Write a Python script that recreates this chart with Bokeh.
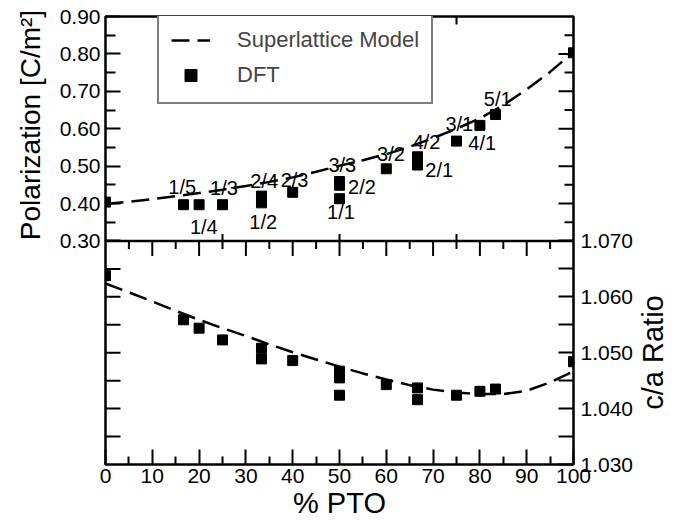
from math import pi
from bokeh.plotting import figure
from bokeh.models import (Range1d, LinearAxis, FixedTicker, PrintfTickFormatter,
                          Span, Legend, LegendItem)
from bokeh.core.properties import value
from bokeh.embed import file_html
from bokeh.resources import INLINE

# ---------------- data ----------------
PTO = [0, 16.67, 20, 25, 33.33, 33.33, 40, 50, 50, 50, 60, 66.67, 66.67, 75, 80, 83.33, 100]
POL_DFT = [0.404, 0.397, 0.397, 0.397, 0.420, 0.402, 0.430, 0.459, 0.449, 0.413,
           0.493, 0.525, 0.503, 0.567, 0.609, 0.638, 0.803]
CA_DFT = [1.0638, 1.0559, 1.0544, 1.0523, 1.0508, 1.0489, 1.0486, 1.0467, 1.0455, 1.0424,
          1.0443, 1.0437, 1.0416, 1.0424, 1.0431, 1.0435, 1.0484]

MODEL_X = [0, 5, 10, 15, 20, 25, 30, 35, 40, 45, 50, 55, 60, 65, 70, 75, 80, 85, 90, 95, 100]
POL_MODEL = [0.399, 0.405, 0.412, 0.420, 0.428, 0.437, 0.447, 0.458, 0.470, 0.485, 0.501,
             0.516, 0.532, 0.552, 0.575, 0.600, 0.628, 0.663, 0.705, 0.752, 0.805]
CA_MODEL = [1.0624, 1.0608, 1.0592, 1.0575, 1.0559, 1.0544, 1.0530, 1.0515, 1.0501, 1.0488,
            1.0475, 1.0463, 1.0452, 1.0442, 1.0434, 1.0429, 1.0426, 1.0426, 1.0432, 1.0447, 1.0467]

LABELS = ["1/5", "1/4", "1/3", "2/4", "1/2", "2/3", "3/3", "2/2", "1/1",
          "3/2", "4/2", "2/1", "3/1", "4/1", "5/1"]
LABEL_X = [16.4, 21.0, 25.3, 33.9, 33.7, 40.4, 50.6, 54.8, 50.3, 61.0, 68.6, 71.3, 75.6, 80.5, 83.8]
LABEL_Y = [0.443, 0.338, 0.4405, 0.461, 0.3515, 0.464, 0.502, 0.444, 0.378,
           0.532, 0.565, 0.490, 0.614, 0.562, 0.680]

X_TICKS = [0, 10, 20, 30, 40, 50, 60, 70, 80, 90, 100]
X_MINOR = [5, 15, 25, 35, 45, 55, 65, 75, 85, 95]
X_QUARTER = [25, 50, 75]
P_TICKS = [0.30, 0.40, 0.50, 0.60, 0.70, 0.80, 0.90]
P_MINOR = [0.35, 0.45, 0.55, 0.65, 0.75, 0.85]
CA_TICKS = [1.030, 1.040, 1.050, 1.060, 1.070]
CA_MINOR = [1.035, 1.045, 1.055, 1.065]

X_MIN, X_MAX = 0, 100
P_MIN, P_MAX = 0.30, 0.90
CA_MIN, CA_MAX = 1.030, 1.070

X_TITLE = "% PTO"
P_TITLE = "Polarization [C/m²]"
CA_TITLE = "c/a Ratio"
P_TITLE_AT = 0.61       # title centred on this polarization value
CA_TITLE_FROM = 1.0398  # title starts (bottom end) at this c/a value

# ---------------- layout ----------------
FONT = "Liberation Sans"
FRAME_H = 449
TOP_H = 225
BOT_H = 224
p_lo = P_MAX - (P_MAX - P_MIN) * FRAME_H / TOP_H
ca_hi = CA_MIN + (CA_MAX - CA_MIN) * FRAME_H / BOT_H

p = figure(width=688, height=521, output_backend="svg", toolbar_location=None,
           x_range=Range1d(X_MIN, X_MAX), y_range=Range1d(p_lo, P_MAX),
           min_border_left=105, min_border_right=111, min_border_top=16, min_border_bottom=56)
p.extra_y_ranges = {"ca": Range1d(CA_MIN, ca_hi)}
p.grid.visible = False
p.outline_line_color = "black"
p.outline_line_width = 2.5
p.outline_line_alpha = 1.0
p.background_fill_color = "white"
p.border_fill_color = "white"


def style_axis(ax, size="21px"):
    ax.axis_line_color = None
    ax.major_tick_out = 0
    ax.minor_tick_out = 0
    ax.major_tick_line_width = 2
    ax.minor_tick_line_width = 2
    ax.major_tick_line_color = "black"
    ax.minor_tick_line_color = "black"
    ax.major_label_text_font = FONT
    ax.major_label_text_font_size = size
    ax.major_label_text_color = "black"
    ax.axis_label_text_font = FONT
    ax.axis_label_text_font_style = "normal"
    ax.axis_label_text_color = "black"


xa = p.xaxis[0]
style_axis(xa)
xa.ticker = FixedTicker(ticks=X_TICKS, minor_ticks=X_MINOR)
xa.formatter = PrintfTickFormatter(format="%d")
xa.major_tick_in = 15
xa.minor_tick_in = 8
xa.major_label_standoff = 4
xa.axis_label = X_TITLE
xa.axis_label_text_font_size = "29px"
xa.axis_label_standoff = 1

ya = p.yaxis[0]
style_axis(ya)
ya.ticker = FixedTicker(ticks=P_TICKS, minor_ticks=P_MINOR)
ya.formatter = PrintfTickFormatter(format="%.2f")
ya.major_tick_in = 15
ya.minor_tick_in = 10
ya.major_label_standoff = 5

# outer left "axis" carrying only the rotated title, centred on the top panel
ya2 = LinearAxis(ticker=FixedTicker(ticks=[P_TITLE_AT], minor_ticks=[]),
                 major_label_overrides={P_TITLE_AT: P_TITLE})
style_axis(ya2, "28px")
ya2.major_tick_line_color = None
ya2.minor_tick_line_color = None
ya2.major_label_orientation = "vertical"
ya2.major_label_standoff = 10
p.add_layout(ya2, "left")

ra = LinearAxis(y_range_name="ca")
style_axis(ra)
ra.ticker = FixedTicker(ticks=CA_TICKS, minor_ticks=CA_MINOR)
ra.formatter = PrintfTickFormatter(format="%.3f")
ra.major_tick_in = 15
ra.minor_tick_in = 15
ra.major_label_standoff = 7
p.add_layout(ra, "right")

# outer right "axis" carrying only the rotated c/a title, on the bottom panel
ra2 = LinearAxis(y_range_name="ca", ticker=FixedTicker(ticks=[CA_TITLE_FROM], minor_ticks=[]),
                 major_label_overrides={CA_TITLE_FROM: CA_TITLE})
style_axis(ra2, "29px")
ra2.major_tick_line_color = None
ra2.minor_tick_line_color = None
ra2.major_label_orientation = pi / 2
ra2.major_label_standoff = 17
p.add_layout(ra2, "right")

# middle boundary between the two panels
p.add_layout(Span(location=P_MIN, dimension="width", line_color="black", line_width=2.5))

# extra tick marks (inside the frame)
TK = dict(length_units="screen", line_color="black", line_width=2)
p.ray(x=X_QUARTER, y=[P_MIN] * 3, length=7, angle=pi / 2, **TK)
p.ray(x=X_QUARTER, y=[P_MAX] * 3, length=8, angle=-pi / 2, **TK)
p.ray(x=X_TICKS[1:-1], y=[P_MIN] * 9, length=15, angle=-pi / 2, **TK)
p.ray(x=X_MINOR, y=[P_MIN] * 10, length=8, angle=-pi / 2, **TK)
p.ray(x=[X_MAX] * 5, y=P_TICKS[1:-1], length=15, angle=pi, **TK)
p.ray(x=[X_MAX] * 6, y=P_MINOR, length=9, angle=pi, **TK)
ca_left = CA_MINOR + CA_TICKS[1:-1]
p.ray(x=[X_MIN] * len(ca_left), y=ca_left, length=15, angle=0, y_range_name="ca", **TK)

# point labels
p.text(x=LABEL_X, y=LABEL_Y, text=LABELS, text_font=value(FONT), text_font_size="20px",
       text_align="center", text_baseline="middle", text_color="black")

# model curves
line_top = p.line(MODEL_X, POL_MODEL, line_color="black", line_width=2.5, line_dash="18 8")
p.line(MODEL_X, CA_MODEL, line_color="black", line_width=2.5, line_dash="18 8", y_range_name="ca")

# DFT points
pts_top = p.scatter(PTO, POL_DFT, marker="square", size=10, color="black")
p.scatter(PTO, CA_DFT, marker="square", size=10, color="black", y_range_name="ca")

legend = Legend(items=[LegendItem(label="Superlattice Model", renderers=[line_top]),
                       LegendItem(label="DFT", renderers=[pts_top])],
                location=(52, 360), label_text_font=FONT, label_text_font_size="22px",
                border_line_color="black", border_line_width=2,
                background_fill_color="white", background_fill_alpha=1.0,
                padding=12, spacing=5, glyph_width=39, glyph_height=30, label_height=30,
                label_standoff=27, margin=0)
p.add_layout(legend)

open("out.html", "w").write(file_html(p, INLINE, title="Polarization and c/a vs % PTO"))
